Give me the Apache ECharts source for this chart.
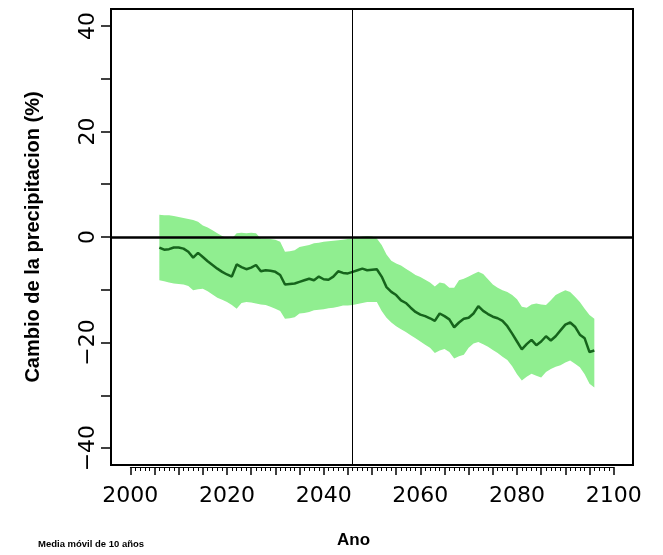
<!DOCTYPE html>
<html>
<head>
<meta charset="utf-8">
<script src="https://cdn.jsdelivr.net/npm/echarts@6/dist/echarts.min.js"></script>
<style>html,body{margin:0;padding:0;background:#fff;}#c{width:663px;height:555px;}</style>
</head>
<body>
<div id="c"></div>
<script>
const startYear = 2006;
const meanVals = [-2.0,-2.4,-2.3,-2.0,-2.0,-2.2,-2.8,-3.9,-3.0,-3.8,
-4.6,-5.3,-6.0,-6.6,-7.1,-7.5,-5.2,-5.7,-6.1,-5.8,
-5.3,-6.5,-6.3,-6.4,-6.6,-7.2,-9.0,-8.9,-8.8,-8.5,
-8.2,-7.9,-8.2,-7.5,-8.0,-8.1,-7.5,-6.5,-6.8,-6.9,
-6.6,-6.3,-6.0,-6.3,-6.2,-6.1,-7.5,-9.5,-10.4,-11.0,
-12.0,-12.5,-13.4,-14.2,-14.7,-15.0,-15.4,-15.9,-14.5,-15.0,
-15.6,-17.1,-16.2,-15.5,-15.3,-14.5,-13.1,-14.0,-14.6,-15.1,
-15.4,-15.9,-16.9,-18.3,-19.8,-21.3,-20.3,-19.5,-20.5,-19.8,
-18.8,-19.6,-18.8,-17.7,-16.6,-16.2,-17.0,-18.5,-19.2,-21.8,-21.5];
const upperVals = [4.2,4.1,4.1,4.0,3.8,3.6,3.4,3.2,2.9,2.2,
1.8,1.3,0.7,0.2,-0.2,-0.3,0.7,0.8,0.7,0.8,
0.7,-0.3,-0.3,-0.4,-0.5,-0.9,-2.8,-2.7,-2.5,-1.9,
-1.7,-1.5,-1.2,-1.1,-0.9,-0.8,-0.7,-0.6,-0.5,-0.4,
-0.3,-0.1,0.1,0.2,0.1,-0.3,-1.5,-3.3,-4.5,-5.0,
-5.4,-6.0,-6.6,-7.2,-7.6,-8.1,-8.6,-9.4,-8.6,-8.8,
-9.6,-9.6,-8.2,-7.9,-7.5,-7.0,-6.6,-7.0,-8.0,-9.0,
-9.6,-10.1,-10.4,-11.0,-11.8,-13.2,-13.4,-12.8,-12.6,-12.8,
-12.9,-12.0,-11.0,-10.5,-10.1,-10.4,-11.3,-12.3,-13.6,-14.8,-15.5];
const lowerVals = [-8.2,-8.4,-8.6,-8.8,-8.9,-9.0,-9.3,-10.1,-9.9,-9.8,
-10.3,-10.9,-11.5,-11.9,-12.3,-12.9,-13.6,-12.5,-12.3,-12.4,
-12.6,-12.8,-12.9,-13.2,-13.6,-14.0,-15.5,-15.4,-15.2,-14.5,
-14.4,-14.2,-13.9,-13.8,-13.7,-13.5,-13.4,-13.2,-13.0,-13.0,
-12.9,-12.7,-12.5,-12.3,-12.3,-12.3,-14.0,-15.3,-16.2,-16.9,
-17.5,-18.0,-18.6,-19.2,-19.8,-20.4,-21.0,-22.0,-21.5,-21.2,
-21.8,-23.0,-22.6,-22.3,-21.0,-20.2,-19.9,-20.3,-20.8,-21.4,
-22.0,-22.7,-23.3,-24.5,-26.0,-27.2,-26.5,-25.9,-26.3,-26.6,
-25.6,-25.0,-24.6,-24.3,-23.8,-23.4,-24.0,-24.7,-26.0,-27.8,-28.5];
const xTickLabels = [2000, 2020, 2040, 2060, 2080, 2100];
const yTickLabels = [-40, -20, 0, 20, 40];
const refYear = 2046;
const yTitle = 'Cambio de la precipitacion (%)';
const xTitle = 'Ano';
const note = 'Media móvil de 10 años';

const years = meanVals.map((_, i) => startYear + i);
const meanData = years.map((y, i) => [y, meanVals[i]]);
const bandData = years.map((y, i) => [y, lowerVals[i], upperVals[i]]);

const font = 'DejaVu Sans';
const chart = echarts.init(document.getElementById('c'), null, {renderer: 'canvas'});
const gL = 111, gT = 9, gW = 522, gH = 456;
const xMin = 1996, xMax = 2104, yMin = -43.2, yMax = 43.2;
const pxX = gW / (xMax - xMin), pxY = gH / (yMax - yMin);

function renderBand(params, api) {
  if (params.dataIndex !== 0) return null;
  const up = [], lo = [];
  for (let i = 0; i < bandData.length; i++) {
    up.push(api.coord([bandData[i][0], bandData[i][2]]));
    lo.push(api.coord([bandData[i][0], bandData[i][1]]));
  }
  const pts = up.concat(lo.reverse());
  return {type: 'polygon', shape: {points: pts}, style: {fill: '#90EE90', stroke: null}};
}

chart.setOption({
  animation: false,
  grid: [
    {left: gL, top: gT, width: gW, height: gH, show: true, borderColor: '#000', borderWidth: 2, backgroundColor: 'transparent'},
    {left: gL + (2000 - xMin) * pxX, width: 100 * pxX, top: gT, height: gH + 2},
    {left: gL, width: gW, top: gT + (yMax - 40) * pxY, height: 80 * pxY}
  ],
  xAxis: [
    {type: 'value', gridIndex: 0, min: xMin, max: xMax, show: false},
    {type: 'value', gridIndex: 1, min: 2000, max: 2100, interval: 5,
      axisLine: {show: true, lineStyle: {color: '#000', width: 1}},
      axisTick: {show: true, length: 8, lineStyle: {color: '#000', width: 1.5}},
      minorTick: {show: true, splitNumber: 5, length: 4, lineStyle: {color: '#000', width: 1}},
      splitLine: {show: false},
      axisLabel: {margin: 18, fontFamily: font, fontSize: 22, color: '#000',
        formatter: v => xTickLabels.indexOf(v) >= 0 ? String(v) : ''}},
    {type: 'value', gridIndex: 2, min: 0, max: 1, show: false}
  ],
  yAxis: [
    {type: 'value', gridIndex: 0, min: yMin, max: yMax, show: false},
    {type: 'value', gridIndex: 1, min: 0, max: 1, show: false},
    {type: 'value', gridIndex: 2, min: -40, max: 40, interval: 10,
      axisLine: {show: false},
      axisTick: {show: true, length: 10, lineStyle: {color: '#000', width: 1.5}},
      splitLine: {show: false},
      axisLabel: {rotate: 90, margin: 12, fontFamily: font, fontSize: 22, color: '#000',
        formatter: v => yTickLabels.indexOf(v) >= 0 ? String(v).replace('-', '\u2212') : ''}}
  ],
  series: [
    {type: 'line', xAxisIndex: 0, yAxisIndex: 0, data: [], z: 1, silent: true,
      markLine: {symbol: 'none', silent: true, label: {show: false},
        lineStyle: {color: '#000', width: 2.5, type: 'solid'}, data: [{yAxis: 0}]}},
    {type: 'custom', xAxisIndex: 0, yAxisIndex: 0, data: bandData, renderItem: renderBand, z: 2, silent: true,
      encode: {x: 0, y: [1, 2]}, clip: true},
    {type: 'line', xAxisIndex: 0, yAxisIndex: 0, data: [], z: 3, silent: true,
      markLine: {symbol: 'none', silent: true, label: {show: false},
        lineStyle: {color: '#000', width: 1, type: 'solid'}, data: [{xAxis: refYear}]}},
    {type: 'line', xAxisIndex: 0, yAxisIndex: 0, data: meanData, symbol: 'none', z: 4,
      lineStyle: {color: '#16641c', width: 2.5}, silent: true}
  ],
  graphic: [
    {type: 'text', x: 33, y: 237, rotation: Math.PI / 2,
      style: {text: yTitle, font: 'bold 20px "Liberation Sans"', fill: '#000', align: 'center', verticalAlign: 'middle'}},
    {type: 'text', left: 337, top: 532, style: {text: xTitle, font: 'bold 17px "Liberation Sans"', fill: '#000'}},
    {type: 'text', left: 38, top: 539, style: {text: note, font: 'bold 9.5px "Liberation Sans"', fill: '#000'}}
  ]
});
</script>
</body>
</html>
